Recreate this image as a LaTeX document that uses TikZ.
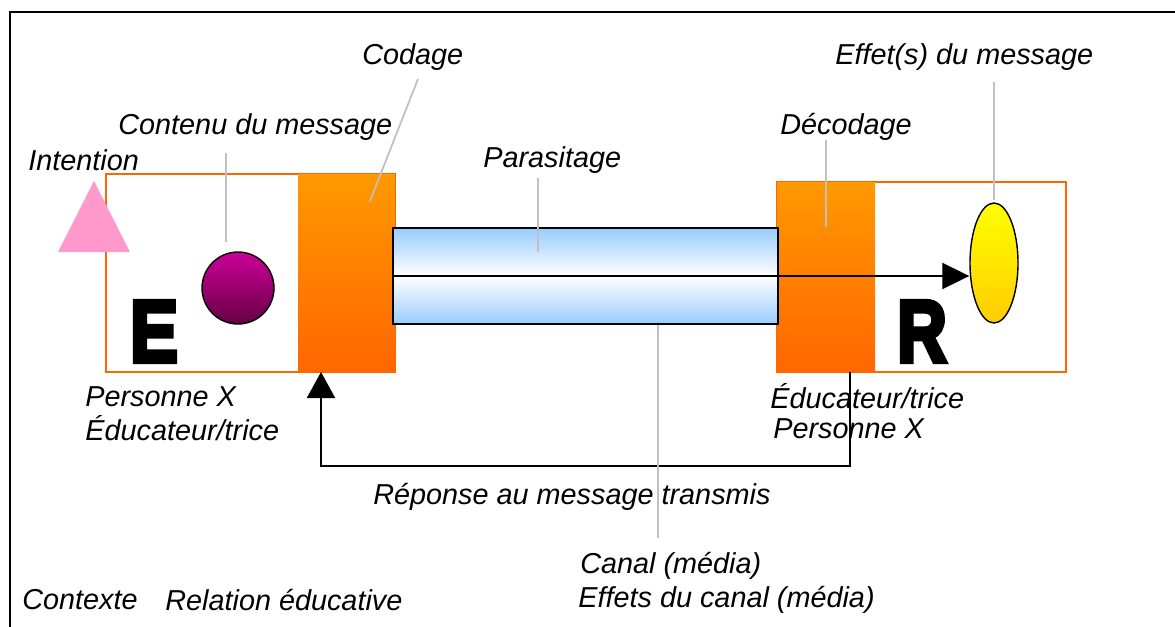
\documentclass[tikz,border=0pt]{standalone}
\usepackage{fontspec}
\setmainfont{Liberation Sans}
\newfontfamily\lettre{Liberation Sans Bold}
\usetikzlibrary{arrows.meta,shapes.geometric}

\definecolor{orangeclair}{HTML}{FF9900}
\definecolor{orangefonce}{HTML}{FF6600}
\definecolor{rose}{HTML}{FF99CC}
\definecolor{violethaut}{HTML}{CC0099}
\definecolor{violetbas}{HTML}{660044}
\definecolor{jaunehaut}{HTML}{FFFF00}
\definecolor{jaunebas}{HTML}{FFCC00}
\definecolor{bleu}{HTML}{99CCFF}
\definecolor{gristrait}{HTML}{C0C0C0}

% lettre epaissie par un contour
\newcommand{\epais}[2]{\special{pdf:literal direct 2 Tr 2.8 w}\scalebox{#1}[1]{#2}\special{pdf:literal direct 0 Tr}}

\begin{document}
\begin{tikzpicture}[x=0.02cm,y=-0.02cm,
  etiquette/.style={anchor=west,inner sep=0pt,font=\fontsize{16.4}{19}\selectfont\itshape},
  rappel/.style={draw=gristrait,line width=1pt},
  cadre/.style={draw=orangefonce,line width=1pt},
  bloc/.style={inner sep=0pt,top color=orangeclair,bottom color=orangefonce},
  fleche/.style={line width=1.1pt,-{Triangle[length=5.4mm,width=5.2mm]}},
  grosse/.style={inner sep=0pt,font=\lettre\fontsize{50}{50}\selectfont}]
 \useasboundingbox (0,0) rectangle (1175,626);
 \clip (0,0) rectangle (1175,626);
 \draw[line width=1.1pt] (10,700) -- (10,12) -- (1250,12); % le cadre

 % l'emetteur et le recepteur
 \draw[cadre] (106,174) rectangle (395,372);
 \draw[cadre] (777,182) rectangle (1066,372);
 \node[bloc, minimum width=1.94cm, minimum height=3.96cm] (blocCodage) at (346.5,273) {};
 \node[bloc, minimum width=1.96cm, minimum height=3.8cm] (blocDecodage) at (826,277) {};
 \fill[rose] (94,181) -- (130,252) -- (58,252) -- cycle; % intention
 \node[circle, draw, line width=0.8pt, minimum size=1.44cm, inner sep=0pt,
       top color=violethaut, bottom color=violetbas] (contenuMsg) at (238,288) {};

 % le canal
 \node[draw, line width=1.4pt, minimum width=7.7cm, minimum height=1.92cm, inner sep=0pt,
       top color=bleu, bottom color=bleu, middle color=white] (canal) at (585.5,276) {};
 \node[ellipse, draw, line width=0.8pt, minimum width=0.96cm, minimum height=2.4cm, inner sep=0pt,
       top color=jaunehaut, bottom color=jaunebas] (effetMsg) at (994,263) {};
 \draw[fleche] (canal.west) -- (canal.west -| effetMsg.west);

 % la reponse
 \coordinate (depart) at (850,372);
 \coordinate (arrivee) at (321,372);
 \draw[line width=1.1pt,-{Triangle[length=5.2mm,width=5.6mm]}] (depart) -- ++(0,94) -| (arrivee);

 \node[grosse] (lettreE) at (154,331.5) {\epais{0.82}{E}};
 \node[grosse] (lettreR) at (922,331.5) {\epais{0.78}{R}};

 % les etiquettes
 \node[etiquette] (codage) at (362,57) {Codage};
 \node[etiquette] (effet) at (835,57) {Effet(s) du message};
 \node[etiquette] (decodage) at (780,127) {Décodage};
 \node[etiquette] (contenu) at (118,127) {Contenu du message};
 \node[etiquette] (intention) at (28,160) {Intention};
 \node[etiquette] (parasitage) at (483,160) {Parasitage};
 \node[etiquette] (persE) at (85,397) {Personne X};
 \node[etiquette] (educE) at (85,428) {Éducateur/trice};
 \node[etiquette] (educR) at (770,396) {Éducateur/trice};
 \node[etiquette] (persR) at (773,429) {Personne X};
 \node[etiquette] (reponse) at (373,497) {Réponse au message transmis};
 \node[etiquette] (canalTxt) at (580,566) {Canal (média)};
 \node[etiquette] (effetsCanal) at (578,600) {Effets du canal (média)};
 \node[etiquette] (contexte) at (22,600) {Contexte};
 \node[etiquette] (relation) at (165,600) {Relation éducative};

 % les traits gris
 \draw[rappel] (226,153) -- (226,242);
 \draw[rappel] (418,79) -- (370,201);
 \draw[rappel] (538,178) -- (538,252);
 \draw[rappel] (826,140) -- (826,227);
 \draw[rappel] (994,82) -- (994,200);
 \draw[rappel] (canal.south -| 658,0) -- (658,538);
\end{tikzpicture}
\end{document}
